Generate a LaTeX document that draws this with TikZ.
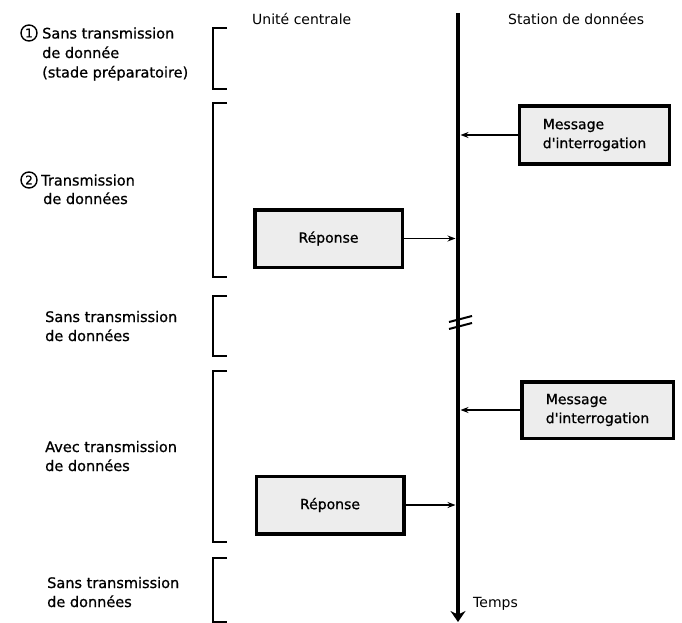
\documentclass[tikz,border=0pt]{standalone}
\usepackage{fontspec}
\setmainfont{DejaVu Sans}
\newfontfamily\labelfont{DejaVu Sans}[FakeBold=0.8]
\usetikzlibrary{arrows.meta}
\begin{document}
\begin{tikzpicture}[x=1pt,y=-1pt,
  head/.style={anchor=base west, inner sep=0pt, font=\fontsize{14}{18}\selectfont},
  lbl/.style={anchor=base west, inner sep=0pt, font=\labelfont\fontsize{14.5}{18}\selectfont},
  num/.style={circle, draw, line width=1.4pt, inner sep=0pt, minimum size=16pt,
    font=\labelfont\fontsize{12}{12}\selectfont},
  span/.style={line width=1.5pt},
  msgbox/.style={draw, line width=3.5pt, fill=gray!14, align=left, inner sep=0pt,
    font=\labelfont\fontsize{14}{19}\selectfont},
  link/.style={line width=1.1pt, -{Stealth[length=8pt,width=6pt]}},
  timeline/.style={line width=4pt},
  cut/.style={line width=2pt},
]
\useasboundingbox (0,0) rectangle (682,623);

% column headings
\node[head] (hu) at (252,25) {Unité centrale};
\node[head] (hs) at (508,25) {Station de données};

% time axis with break marks
\coordinate (tl-top) at (458,13);
\coordinate (tl-end) at (458,622);
\draw[timeline, -{Stealth[length=11pt,width=15pt]}] (tl-top) -- (tl-end);
\draw[cut] (449,322) -- (472,316);
\draw[cut] (449,329) -- (472,323);
\node[head] (temps) at (473,607) {Temps};

% phase brackets
\foreach \a/\b in {28/89, 103/277, 296/356, 371/542, 558/622}
  \draw[span] (227,\a) -| (213,\b) -- (227,\b);

% phase labels
\node[num] (n1) at (29,33) {1};
\node[lbl] (p1a) at (42,38.5) {Sans transmission};
\node[lbl] (p1b) at (42,58) {de donnée};
\node[lbl] (p1c) at (42,77.5) {(stade préparatoire)};

\node[num] (n2) at (29,180) {2};
\node[lbl] (p2a) at (41,185.5) {Transmission};
\node[lbl] (p2b) at (43,204) {de données};

\node[lbl] (p3a) at (45,322) {Sans transmission};
\node[lbl] (p3b) at (45,341) {de données};

\node[lbl] (p4a) at (45,452) {Avec transmission};
\node[lbl] (p4b) at (45,471) {de données};

\node[lbl] (p5a) at (47,588) {Sans transmission};
\node[lbl] (p5b) at (47,607) {de données};

% exchanged messages
\node[msgbox, minimum width=150pt, minimum height=58pt] (m1) at (594.5,135) {Message\\d'interrogation};
\coordinate (h1) at (460.5,135);
\draw[link] (m1.west) -- (h1);

\node[msgbox, minimum width=147.5pt, minimum height=57.5pt] (r1) at (328.5,238.5) {Réponse};
\coordinate (h2) at (455.5,238.5);
\draw[link] (r1.east) -- (h2);

\node[msgbox, minimum width=151.5pt, minimum height=56.5pt] (m2) at (597.5,410) {Message\\d'interrogation};
\coordinate (h3) at (460.5,410);
\draw[link] (m2.west) -- (h3);

\node[msgbox, minimum width=147.5pt, minimum height=57.5pt] (r2) at (330,505) {Réponse};
\coordinate (h4) at (455.5,505);
\draw[link] (r2.east) -- (h4);
\end{tikzpicture}
\end{document}
